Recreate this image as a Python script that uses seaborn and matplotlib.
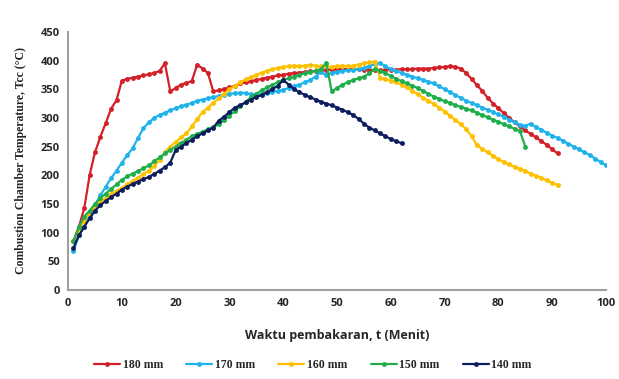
import numpy as np
import pandas as pd
import seaborn as sns
import matplotlib.pyplot as plt

# =====================
# Data (temperature per minute)
# =====================
t180 = [85, 110, 142, 200, 240, 267, 291, 316, 331, 365, 368, 370, 372, 374, 376, 378, 382, 395,
        346, 352, 358, 361, 364, 393, 386, 378, 346, 348, 350, 353, 356, 360, 362, 364, 366, 368,
        370, 372, 374, 375, 377, 378, 379, 380, 381, 382, 383, 384, 384, 385, 385, 385, 385, 385,
        384, 384, 383, 383, 384, 384, 384, 385, 385, 385, 386, 386, 386, 387, 388, 389, 390, 389,
        386, 378, 368, 357, 347, 335, 325, 317, 308, 300, 292, 285, 278, 272, 266, 259, 253, 245, 238]
t170 = [68, 95, 110, 128, 148, 165, 180, 195, 208, 222, 235, 247, 265, 282, 292, 300, 305, 309,
        313, 317, 320, 323, 326, 330, 332, 334, 336, 338, 340, 342, 343, 344, 343, 341, 340, 341,
        343, 345, 347, 349, 352, 355, 358, 362, 366, 372, 380, 375, 378, 380, 382, 383, 384, 385,
        387, 390, 394, 396, 390, 385, 382, 378, 375, 372, 369, 366, 363, 360, 355, 350, 345, 340,
        335, 330, 326, 322, 318, 314, 310, 306, 302, 297, 292, 288, 286, 290, 284, 279, 274, 269,
        265, 260, 255, 250, 245, 240, 235, 229, 223, 217]
t160 = [85, 105, 120, 135, 145, 153, 160, 167, 173, 178, 184, 190, 196, 202, 208, 216, 226, 240,
        250, 258, 266, 273, 285, 298, 310, 318, 326, 334, 342, 350, 356, 362, 367, 371, 375, 379,
        382, 385, 387, 389, 390, 391, 390, 391, 392, 391, 390, 390, 389, 390, 391, 390, 391, 393,
        395, 397, 398, 370, 368, 365, 362, 358, 353, 347, 341, 335, 330, 324, 318, 311, 304, 296,
        289, 280, 268, 252, 246, 240, 234, 228, 223, 219, 215, 211, 207, 203, 199, 195, 191, 187, 183]
t150 = [85, 110, 128, 138, 150, 160, 168, 176, 184, 192, 198, 203, 207, 212, 217, 224, 231, 238,
        244, 250, 256, 262, 268, 272, 276, 280, 284, 289, 296, 304, 312, 320, 328, 336, 342, 348,
        353, 358, 362, 366, 369, 372, 375, 378, 380, 382, 385, 396, 346, 352, 358, 362, 366, 369,
        372, 378, 385, 382, 378, 373, 368, 364, 360, 356, 352, 347, 342, 337, 333, 329, 326, 322,
        319, 316, 313, 309, 305, 301, 297, 293, 289, 285, 281, 277, 250]
t140 = [73, 95, 110, 125, 138, 148, 155, 162, 168, 175, 180, 185, 189, 193, 197, 202, 208, 214,
        222, 244, 250, 256, 262, 268, 273, 278, 283, 295, 302, 310, 318, 322, 327, 332, 336, 340,
        345, 350, 356, 366, 358, 350, 345, 340, 336, 332, 328, 325, 322, 318, 314, 310, 305, 298,
        290, 283, 278, 273, 268, 263, 259, 256]

series = ["180 mm", "170 mm", "160 mm", "150 mm", "140 mm"]
values = [t180, t170, t160, t150, t140]
colors = ["#d42027", "#1fb3ec", "#ffc000", "#1fae4b", "#0d1d5e"]

frames = []
for name, v in zip(series, values):
    frames.append(pd.DataFrame({"t": np.arange(1, len(v) + 1), "temp": v, "series": name}))
df = pd.concat(frames, ignore_index=True)

# =====================
# Plot
# =====================
sns.set_style("white")
fig = plt.figure(figsize=(6.19, 3.79), dpi=100)
ax = fig.add_axes([0.110, 0.235, 0.869, 0.681])

sns.lineplot(data=df, x="t", y="temp", hue="series", hue_order=series,
             palette=colors, marker="o", markersize=3.5, markeredgewidth=0,
             linewidth=1.6, ax=ax)

ax.set_xlim(0, 100)
ax.set_ylim(0, 450)
ax.set_xticks(range(0, 101, 10))
ax.set_yticks(range(0, 451, 50))
for lab in ax.get_xticklabels() + ax.get_yticklabels():
    lab.set_fontfamily("Open Sans")
    lab.set_fontweight("bold")
    lab.set_fontsize(8)
ax.tick_params(length=0, pad=6)

for s in ["top", "right"]:
    ax.spines[s].set_visible(False)
for s in ["left", "bottom"]:
    ax.spines[s].set_color("#a0a0a0")
    ax.spines[s].set_linewidth(1.5)

ax.set_xlabel("Waktu pembakaran, t (Menit)", fontfamily="Open Sans",
              fontweight="bold", fontsize=9, labelpad=14)
ax.set_ylabel("Combustion Chamber Temperature, Tcc (°C)", fontfamily="Liberation Serif",
              fontweight="bold", fontsize=8.5, labelpad=10)

ax.legend(loc="center", bbox_to_anchor=(0.455, -0.29), ncol=5, frameon=False,
          prop={"family": "Liberation Serif", "weight": "bold", "size": 8.5},
          handlelength=2.2, columnspacing=2.0, handletextpad=0.2)

fig.savefig("out.png", dpi=100)
